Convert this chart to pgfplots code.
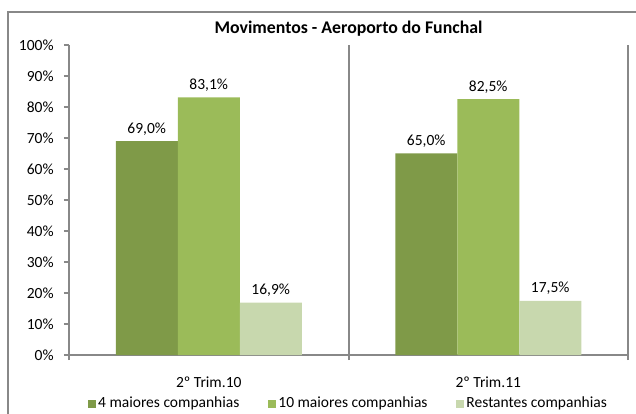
\documentclass[border=0pt]{standalone}
\usepackage{fontspec}
\setmainfont{Carlito}
\usepackage{pgfplots}
\pgfplotsset{compat=1.18}
\definecolor{gDark}{HTML}{7F9A48}
\definecolor{gMid}{HTML}{9BBB59}
\definecolor{gLight}{HTML}{C8D8AE}
\definecolor{axgray}{HTML}{888888}

\begin{document}
\fontsize{15.5bp}{18bp}\selectfont
\begin{tikzpicture}
\clip (-69bp,-59bp) rectangle (567bp,355bp);
\draw[axgray, line width=2bp] (-61bp,-90bp) rectangle (620bp,343bp);
\begin{axis}[
    scale only axis,
    width=559bp, height=310bp,
    ybar=0pt,
    bar width=62bp,
    xmin=-0.5, xmax=1.5,
    ymin=0, ymax=100,
    axis x line*=bottom,
    axis y line*=left,
    axis line style={axgray, line width=2bp},
    tick align=outside,
    major tick length=5bp,
    tick style={axgray, line width=2bp},
    xtick={-0.5,0.5,1.5},
    xticklabels={},
    xmajorgrids=true,
    grid style={axgray, line width=2bp},
    extra x ticks={0,1},
    extra x tick labels={2º Trim.10, 2º Trim.11},
    extra x tick style={grid=none, major tick length=0pt,
        ticklabel style={anchor=base, yshift=-32bp}},
    ytick={0,10,...,100},
    yticklabels={0\%,10\%,20\%,30\%,40\%,50\%,60\%,70\%,80\%,90\%,100\%},
    yticklabel shift=5bp,
    yticklabel style={font=\fontsize{15.5bp}{18bp}\selectfont},
    xticklabel style={font=\fontsize{15.5bp}{18bp}\selectfont},
    title={Movimentos - Aeroporto do Funchal},
    title style={at={(0.5,1)}, anchor=base, yshift=6bp,
        font=\fontsize{17.8bp}{20bp}\selectfont\bfseries},
    nodes near coords={\pgfmathprintnumber[fixed,fixed zerofill,precision=1,use comma,assume math mode=true]{\pgfplotspointmeta}\%},
    every node near coord/.append style={anchor=base, yshift=8bp, text=black},
    legend columns=3,
    legend style={at={(axis description cs:0.5,-0.157)}, anchor=center,
        draw=none, fill=none,
        /tikz/every even column/.append style={column sep=27bp}},
    legend image code/.code={\fill[#1] (0bp,-4bp) rectangle (8bp,4bp);},
]
\addplot[fill=gDark, draw=none] coordinates {(0,69.0) (1,65.0)};
\addplot[fill=gMid, draw=none] coordinates {(0,83.1) (1,82.5)};
\addplot[fill=gLight, draw=none] coordinates {(0,16.9) (1,17.5)};
\legend{4 maiores companhias, 10 maiores companhias, Restantes companhias}
\end{axis}
\end{tikzpicture}
\end{document}
